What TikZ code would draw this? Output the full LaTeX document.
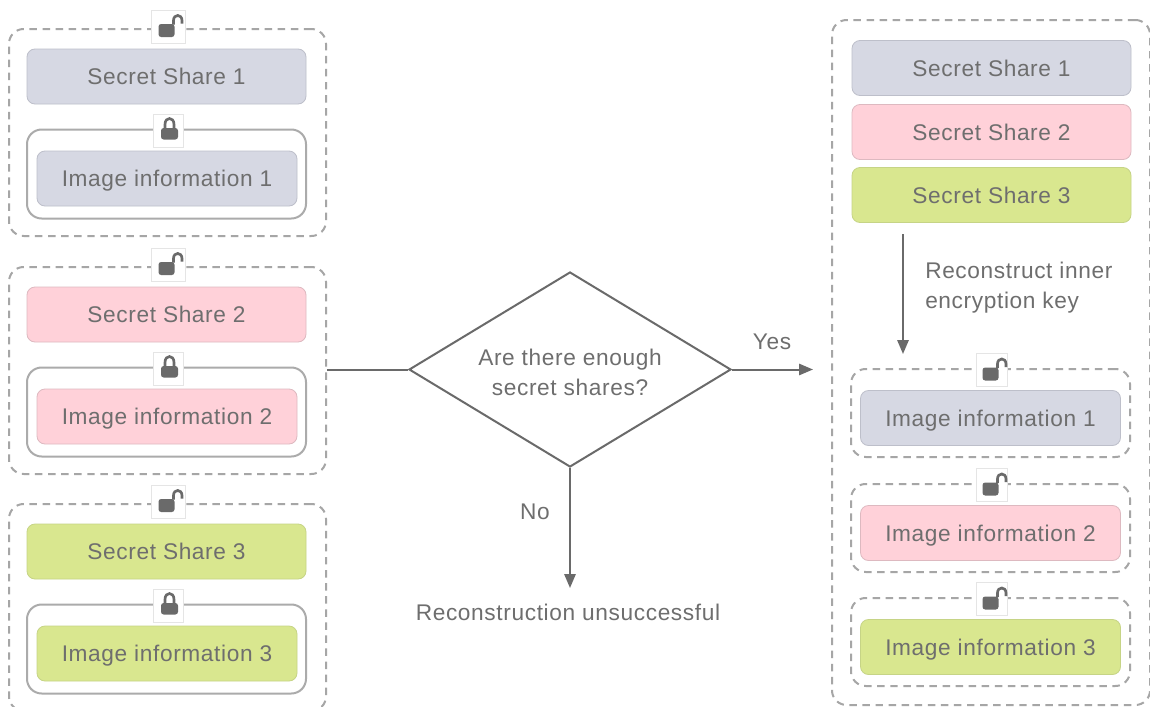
\documentclass[tikz,border=0pt]{standalone}
\usepackage{fontspec}
\setmainfont[LetterSpace=2.8]{Liberation Sans}
\usetikzlibrary{shapes.geometric,arrows.meta}
\definecolor{txt}{HTML}{6E6E6E}
\definecolor{ink}{HTML}{6A6A6A}
\definecolor{dashc}{HTML}{A6A6A6}
\definecolor{solidc}{HTML}{ABABAB}
\definecolor{blu}{HTML}{D6D8E3}\definecolor{bluD}{HTML}{BDBFCA}
\definecolor{pnk}{HTML}{FFD1D9}\definecolor{pnkD}{HTML}{DDB9C0}
\definecolor{grn}{HTML}{D9E78F}\definecolor{grnD}{HTML}{C6D486}
\tikzset{
 lab/.style={text=txt,font=\fontsize{17}{22.5}\selectfont,inner sep=0pt,align=center},
 share/.style={lab,rectangle,rounded corners=6pt,line width=0.6pt,minimum width=279*0.75pt,minimum height=55*0.75pt,text height=12.2pt,text depth=0pt},
 info/.style={share,minimum width=260*0.75pt},
 bluebox/.style={fill=blu,draw=bluD},
 pinkbox/.style={fill=pnk,draw=pnkD},
 greenbox/.style={fill=grn,draw=grnD},
 dashbox/.style={rectangle,draw=dashc,line width=1.5pt,dash pattern=on 5.6pt off 4.2pt,rounded corners=11pt,inner sep=0pt},
 solidbox/.style={rectangle,draw=solidc,line width=1.5pt,rounded corners=11pt,inner sep=0pt,minimum width=279*0.75pt,minimum height=89*0.75pt},
 iconbox/.style={rectangle,fill=white,draw=black!10,line width=0.4pt,inner sep=0pt},
 link/.style={draw=ink,line width=1.5pt},
 arrowlink/.style={link,-{Triangle[length=10.5pt,width=8.5pt]}},
 glyph/.style={fill=ink,draw=none},
 shackle/.style={draw=ink,line width=2pt,fill=none},
}
\newcommand\openlock[4]{% name, x, y, width
 \node[iconbox,minimum width=#4*0.75pt,minimum height=33*0.75pt] (#1) at (#2,#3) {};
 \begin{scope}[shift={(#2,#3)}]
  \fill[glyph,rounded corners=2pt] (-9.5,-2.5) rectangle (6.5,10.5);
  \draw[shackle] (5.5,-2) -- (5.5,-6) .. controls (5.5,-12.7) and (14,-12.7) .. (14,-6) -- (14,-3);
 \end{scope}}
\newcommand\closedlock[3]{% name, x, y
 \node[iconbox,minimum width=30*0.75pt,minimum height=33*0.75pt] (#1) at (#2,#3) {};
 \begin{scope}[shift={(#2,#3)}]
  \fill[glyph,rounded corners=2pt] (-7,-2.5) rectangle (10,9);
  \draw[shackle] (-3,-2) -- (-3,-6) .. controls (-3,-14) and (6,-14) .. (6,-6) -- (6,-2);
 \end{scope}}
\newcommand\leftgroup[5]{% index, top y, box style, unused, outer height
 \pgfmathsetmacro\yb{#2+47.5}\pgfmathsetmacro\yc{#2+145}\pgfmathsetmacro\yd{#2+149.5}
 \node[dashbox,minimum width=317*0.75pt,minimum height=#5*0.75pt] (outer#1) at (167.5,{#2+#5/2}) {};
 \node[share,#3] (lshare#1) at (166.5,\yb) {Secret Share #1};
 \node[solidbox] (lock#1) at (166.5,\yc) {};
 \node[info,#3] (limage#1) at (167,\yd) {Image information #1};
 \pgfmathsetmacro\ye{#2-2.5}\pgfmathsetmacro\yf{#2+101.5}
 \openlock{lopen#1}{168}{\ye}{34}
 \closedlock{lclosed#1}{168}{\yf}
}
\newcommand\rightgroup[4]{% index, top y, style, unused
 \pgfmathsetmacro\ya{#2+44}\pgfmathsetmacro\yb{#2+49}\pgfmathsetmacro\yc{#2+1}
 \node[dashbox,minimum width=279*0.75pt,minimum height=88*0.75pt] (rgroup#1) at (990.5,\ya) {};
 \node[info,#3] (rimage#1) at (990.5,\yb) {Image information #1};
 \openlock{ropen#1}{992}{\yc}{31}
}
\begin{document}
\begin{tikzpicture}[x=0.75pt,y=-0.75pt]
\useasboundingbox[fill=white] (0,0) rectangle (1150,707);
\leftgroup{1}{29}{bluebox}{}{207}
\leftgroup{2}{267}{pinkbox}{}{207}
\leftgroup{3}{504}{greenbox}{}{207}
\node[dashbox,minimum width=318*0.75pt,minimum height=685*0.75pt] (router) at (991,362.5) {};
\node[share,bluebox] (rshare1) at (991.5,68) {Secret Share 1};
\node[share,pinkbox] (rshare2) at (991.5,132) {Secret Share 2};
\node[share,greenbox] (rshare3) at (991.5,195) {Secret Share 3};
\rightgroup{1}{369}{bluebox}{}
\rightgroup{2}{484}{pinkbox}{}
\rightgroup{3}{598}{greenbox}{}
\node[lab,draw=ink,line width=1.5pt,shape=diamond,minimum width=322*0.75pt,minimum height=195*0.75pt,shape aspect=1.65] (dec) at (570,369.5) {\rule{0pt}{17pt}Are there enough\\secret shares?};
\node[lab] (yes) at (772,342) {Yes};
\node[lab] (no) at (535,512) {No};
\node[lab] (fail) at (568,612) {Reconstruction unsuccessful};
\node[lab,align=left,anchor=west] (rec) at (925,288) {Reconstruct inner\\encryption key};
\coordinate (yesend) at (813,369.5);
\coordinate (failend) at (570,588);
\coordinate (recstart) at (903,234);
\coordinate (recend) at (903,354);
\draw[link] (outer2.east |- dec.west) -- (dec.west);
\draw[arrowlink] (dec.east) -- (yesend);
\draw[arrowlink] (dec.south) -- (failend);
\draw[arrowlink] (recstart) -- (recend);
\end{tikzpicture}
\end{document}
